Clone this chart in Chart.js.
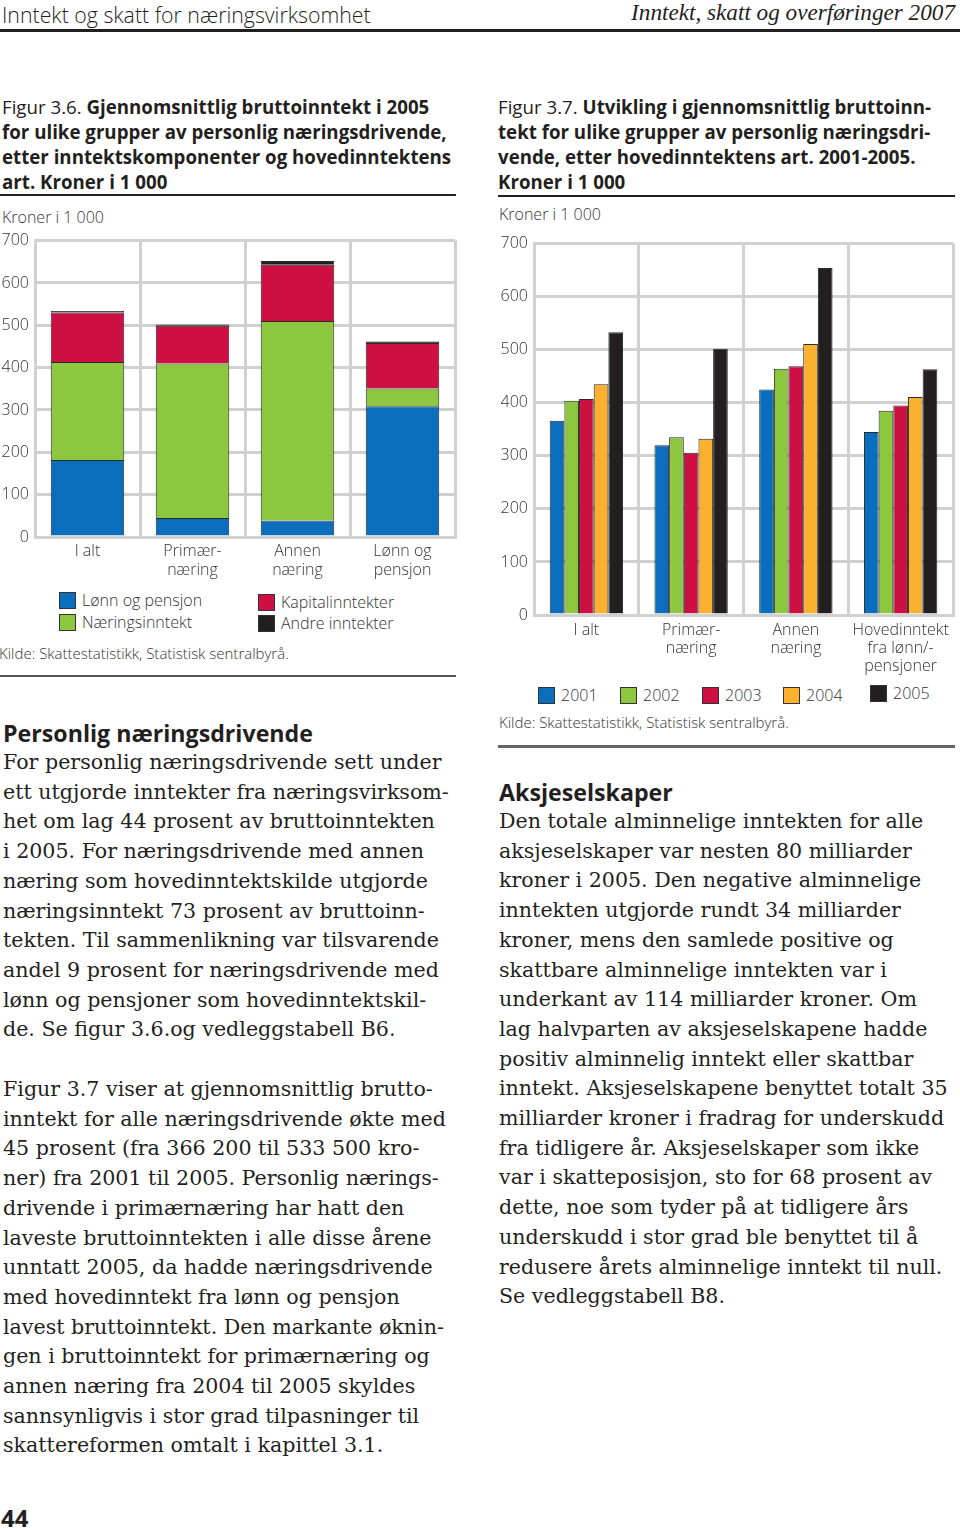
<!DOCTYPE html>
<html>
<head>
<meta charset="utf-8">
<script src="https://cdn.jsdelivr.net/npm/chart.js@4.4.0/dist/chart.umd.min.js"></script>
<style>
  body { margin: 0; width: 960px; height: 1530px; position: relative; background: #fff; color: #231f20; overflow: hidden; }
  .abs { position: absolute; white-space: nowrap; }
  .sans { font-family: "Open Sans", "Noto Sans", sans-serif; }
  .serif { font-family: "DejaVu Serif", serif; }
  .rule { position: absolute; background: #231f20; }
  .title { font-size: 18.7px; line-height: 25px; font-weight: 700; }
  .title span { font-weight: 400; }
  .body { font-size: 20.6px; line-height: 29.7px; }
  .head2 { font-size: 23.2px; line-height: 30px; font-weight: 700; }
  .small { font-size: 16px; font-weight: 300; color: #333; }
  .leg { position: absolute; white-space: nowrap; font-size: 16px; font-weight: 300; color: #333; line-height: 18px; }
  .leg i { display: inline-block; width: 17px; height: 17px; border: 1px solid #333; box-sizing: border-box; vertical-align: -3px; margin-right: 6px; }
</style>
</head>
<body>

<div class="abs sans" style="left:2px;top:0;font-size:21.3px;font-weight:300;">Inntekt og skatt for næringsvirksomhet</div>
<div class="abs" style="right:5px;top:-1px;font-size:23.2px;font-style:italic;font-family:'Liberation Serif',serif;">Inntekt, skatt og overføringer 2007</div>
<div class="rule" style="left:0;top:29px;width:960px;height:3px;"></div>

<div class="abs sans title" style="left:2px;top:94px;"><span>Figur 3.6.</span> Gjennomsnittlig bruttoinntekt i 2005<br>for ulike grupper av personlig næringsdrivende,<br>etter inntektskomponenter og hovedinntektens<br>art. Kroner i 1 000</div>
<div class="rule" style="left:0;top:194px;width:456px;height:2px;"></div>
<div class="abs sans small" style="left:2px;top:206px;">Kroner i 1 000</div>

<div class="abs sans title" style="left:498px;top:94px;"><span>Figur 3.7.</span> Utvikling i gjennomsnittlig bruttoinn-<br>tekt for ulike grupper av personlig næringsdri-<br>vende, etter hovedinntektens art. 2001-2005.<br>Kroner i 1 000</div>
<div class="rule" style="left:498px;top:195px;width:457px;height:2px;"></div>
<div class="abs sans small" style="left:499px;top:203px;">Kroner i 1 000</div>

<canvas id="chart1" width="462" height="364" style="position:absolute;left:0;top:225px;"></canvas>
<canvas id="chart2" width="470" height="449" style="position:absolute;left:490px;top:228px;"></canvas>

<div id="legend1"></div>
<div id="legend2"></div>

<div class="abs sans small" style="left:-1px;top:643px;font-size:15px;">Kilde: Skattestatistikk, Statistisk sentralbyrå.</div>
<div class="rule" style="left:0;top:675px;width:456px;height:1.5px;background:#555;"></div>

<div class="abs sans small" style="left:499px;top:712px;font-size:15px;">Kilde: Skattestatistikk, Statistisk sentralbyrå.</div>
<div class="rule" style="left:498px;top:745px;width:457px;height:3px;background:#666;"></div>

<div class="abs sans head2" style="left:3px;top:718px;">Personlig næringsdrivende</div>
<div class="abs serif body" style="left:3px;top:748px;">For personlig næringsdrivende sett under<br>ett utgjorde inntekter fra næringsvirksom-<br>het om lag 44 prosent av bruttoinntekten<br>i 2005. For næringsdrivende med annen<br>næring som hovedinntektskilde utgjorde<br>næringsinntekt 73 prosent av bruttoinn-<br>tekten. Til sammenlikning var tilsvarende<br>andel 9 prosent for næringsdrivende med<br>lønn og pensjoner som hovedinntektskil-<br>de. Se figur 3.6.og vedleggstabell B6.</div>
<div class="abs serif body" style="left:3px;top:1075px;">Figur 3.7 viser at gjennomsnittlig brutto-<br>inntekt for alle næringsdrivende økte med<br>45 prosent (fra 366 200 til 533 500 kro-<br>ner) fra 2001 til 2005. Personlig nærings-<br>drivende i primærnæring har hatt den<br>laveste bruttoinntekten i alle disse årene<br>unntatt 2005, da hadde næringsdrivende<br>med hovedinntekt fra lønn og pensjon<br>lavest bruttoinntekt. Den markante øknin-<br>gen i bruttoinntekt for primærnæring og<br>annen næring fra 2004 til 2005 skyldes<br>sannsynligvis i stor grad tilpasninger til<br>skattereformen omtalt i kapittel 3.1.</div>

<div class="abs sans head2" style="left:499px;top:777px;">Aksjeselskaper</div>
<div class="abs serif body" style="left:499px;top:807px;">Den totale alminnelige inntekten for alle<br>aksjeselskaper var nesten 80 milliarder<br>kroner i 2005. Den negative alminnelige<br>inntekten utgjorde rundt 34 milliarder<br>kroner, mens den samlede positive og<br>skattbare alminnelige inntekten var i<br>underkant av 114 milliarder kroner. Om<br>lag halvparten av aksjeselskapene hadde<br>positiv alminnelig inntekt eller skattbar<br>inntekt. Aksjeselskapene benyttet totalt 35<br>milliarder kroner i fradrag for underskudd<br>fra tidligere år. Aksjeselskaper som ikke<br>var i skatteposisjon, sto for 68 prosent av<br>dette, noe som tyder på at tidligere års<br>underskudd i stor grad ble benyttet til å<br>redusere årets alminnelige inntekt til null.<br>Se vedleggstabell B8.</div>

<div class="abs sans" style="left:1px;top:1501px;font-size:24px;font-weight:700;">44</div>

<script>
// Figur 3.6 - stacked, 2005
var groups1 = [['I alt'], ['Primær-', 'næring'], ['Annen', 'næring'], ['Lønn og', 'pensjon']];
var lonnOgPensjon = [182, 45, 39, 309];
var naeringsinntekt = [231, 365, 471, 42];
var kapitalinntekter = [117, 89, 133, 107];
var andreInntekter = [4, 3, 9, 4];
var components = ['Lønn og pensjon', 'Næringsinntekt', 'Kapitalinntekter', 'Andre inntekter'];

// Figur 3.7 - grouped by year
var groups2 = [['I alt'], ['Primær-', 'næring'], ['Annen', 'næring'], ['Hovedinntekt', 'fra lønn/-', 'pensjoner']];
var years = ['2001', '2002', '2003', '2004', '2005'];
var y2001 = [366, 320, 425, 345];
var y2002 = [404, 335, 464, 385];
var y2003 = [407, 306, 469, 395];
var y2004 = [435, 332, 511, 411];
var y2005 = [533, 502, 654, 463];

var yMin = 0, yMax = 700, yStep = 100;

var colors = ['#0a6ebd', '#8dc63f', '#cd1041', '#fbb12f', '#231f20'];
var gridGrey = '#d0d0d0';
var tickFont = { family: '"Open Sans", "Noto Sans", sans-serif', size: 16, weight: 300 };

function axes(yWidth, xHeight, lh, xPad) {
    return {
        x: {
            stacked: false,
            grid: { color: gridGrey, lineWidth: 3, offset: true, drawTicks: false },
            border: { color: gridGrey, width: 3 },
            ticks: { color: '#333', font: Object.assign({ lineHeight: lh }, tickFont), padding: xPad, autoSkip: false, maxRotation: 0 },
            afterFit: function (s) { s.height = xHeight; }
        },
        y: {
            min: yMin, max: yMax,
            grid: { color: gridGrey, lineWidth: 3, drawTicks: false },
            border: { color: gridGrey, width: 3 },
            ticks: { stepSize: yStep, color: '#333', font: tickFont, padding: 6 },
            afterFit: function (s) { s.width = yWidth; }
        }
    };
}

var sc1 = axes(35, 52, 1.2, 5);
sc1.x.stacked = true;
sc1.y.stacked = true;

var series1 = [lonnOgPensjon, naeringsinntekt, kapitalinntekter, andreInntekter];
var colors1 = [colors[0], colors[1], colors[2], colors[4]];

new Chart(document.getElementById('chart1').getContext('2d'), {
    type: 'bar',
    data: {
        labels: groups1,
        datasets: series1.map(function (d, i) {
            return {
                label: components[i],
                data: d,
                backgroundColor: colors1[i],
                borderColor: '#2a2a2a',
                borderWidth: 1,
                categoryPercentage: 0.7,
                barPercentage: 1
            };
        })
    },
    options: {
        responsive: false,
        animation: false,
        layout: { padding: { top: 10, right: 7 } },
        plugins: { legend: { display: false }, tooltip: { enabled: false } },
        scales: sc1
    }
});

var series2 = [y2001, y2002, y2003, y2004, y2005];

new Chart(document.getElementById('chart2').getContext('2d'), {
    type: 'bar',
    data: {
        labels: groups2,
        datasets: series2.map(function (d, i) {
            return {
                label: years[i],
                data: d,
                backgroundColor: colors[i],
                borderColor: '#2a2a2a',
                borderWidth: 1,
                categoryPercentage: 0.7,
                barPercentage: 1
            };
        })
    },
    options: {
        responsive: false,
        animation: false,
        layout: { padding: { top: 10.6, right: 7 } },
        plugins: { legend: { display: false }, tooltip: { enabled: false } },
        scales: axes(44, 62, 1.1, 7)
    }
});

// legends (html, built from the same names/colours)
var leg1pos = [[59, 591], [59, 613], [258, 593], [258, 614]];
var html = '';
components.forEach(function (name, i) {
    html += '<div class="leg sans" style="left:' + leg1pos[i][0] + 'px;top:' + leg1pos[i][1] + 'px;"><i style="background:' + colors1[i] + '"></i>' + name + '</div>';
});
document.getElementById('legend1').innerHTML = html;

var leg2x = [538, 620, 702, 783, 870];
html = '';
years.forEach(function (y, i) {
    var top = i === 4 ? 684 : 686;
    html += '<div class="leg sans" style="left:' + leg2x[i] + 'px;top:' + top + 'px;"><i style="background:' + colors[i] + '"></i>' + y + '</div>';
});
document.getElementById('legend2').innerHTML = html;
</script>
</body>
</html>
